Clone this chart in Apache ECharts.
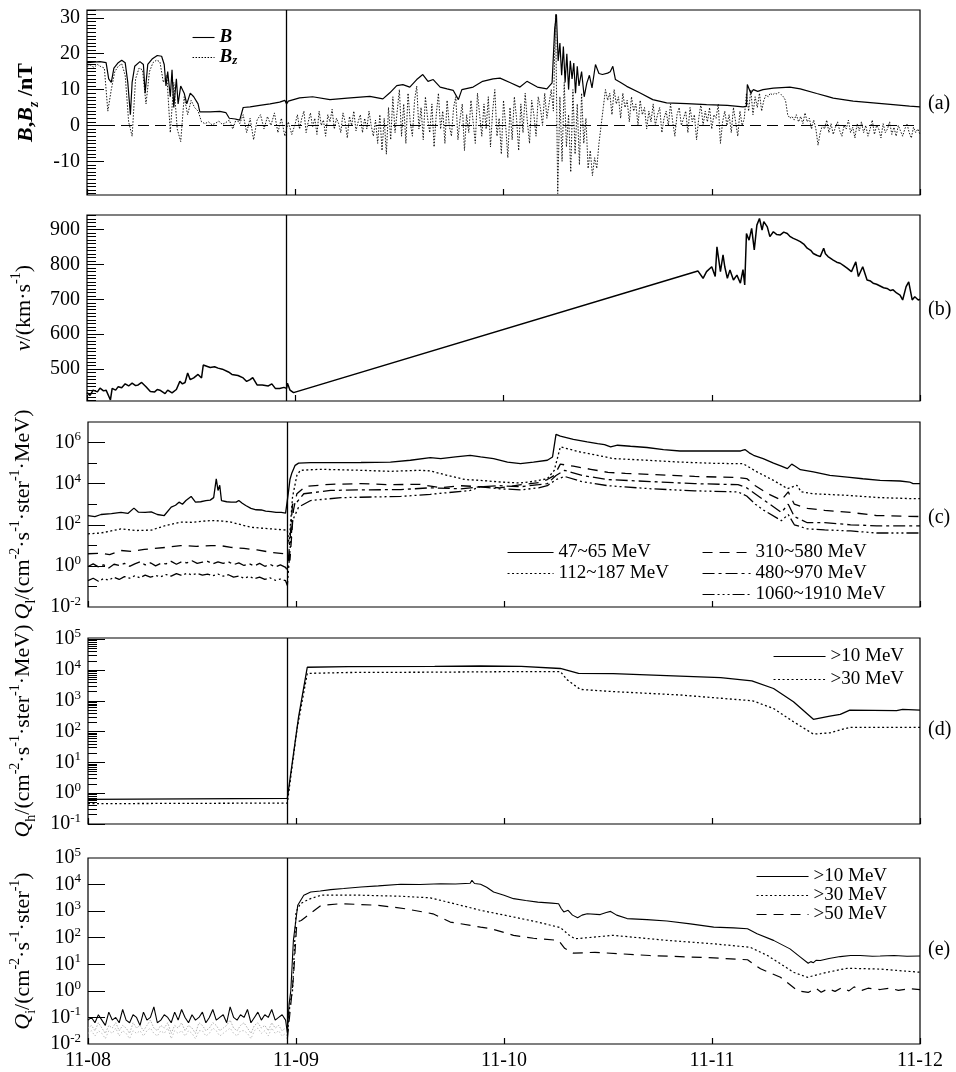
<!DOCTYPE html>
<html>
<head>
<meta charset="utf-8">
<script src="https://cdn.jsdelivr.net/npm/echarts@6/dist/echarts.min.js"></script>
<style>
  html, body { margin: 0; padding: 0; background: #fff; }
  #chart { width: 956px; height: 1072px; }
</style>
</head>
<body>
<div id="chart"></div>
<script>
// Time is counted in hours from 11-08 00:00 UT; the vertical marker is the event onset.
const dayLabels = ['11-08', '11-09', '11-10', '11-11', '11-12'];
const onsetHour = 23;

// (a) interplanetary magnetic field |B| [hour, nT]
const fieldB = [
  [0,17.5],[1.5,17.8],[2.2,17.5],[2.5,13],[2.8,12],[3.1,16],[3.6,17.5],[4.0,18.2],[4.4,17.5],[4.7,12],
  [5.0,3],[5.2,12],[5.5,16.5],[6.1,17.8],[6.5,17],[6.7,9],[7.0,17],[7.5,18.5],[8.1,19.5],[8.6,19.3],
  [8.9,17],[9.1,11],[9.3,15],[9.6,8],[9.8,15.5],[10.0,5],[10.3,13],[10.5,6],[10.8,11],[11.2,9],
  [11.5,6],[11.9,9],[12.3,8],[12.8,6],[13.0,3.8],[14.2,3.8],[15.3,3.9],[16.0,3.6],[16.4,2],[17.1,1.8],
  [17.6,1.5],[18.0,5],[18.8,5.2],[19.9,5.6],[21.1,6],[22.2,6.5],[22.8,7],[23.0,6],[23.2,6.8],[24.5,7.7],
  [26.0,8.0],[28.0,7.2],[30.0,7.6],[32.6,8.1],[34.1,7.4],[34.9,9.1],[35.7,11.1],[36.4,11.4],[37.2,10.7],[38.0,12.8],
  [38.7,14.2],[39.3,12.3],[39.9,12.8],[40.7,10.7],[41.5,10.2],[42.2,9.8],[42.8,7.2],[43.2,10],[44.5,10.7],[45.6,12.3],
  [46.8,13],[47.6,13.2],[48.8,11.9],[49.9,10.7],[50.7,12.3],[51.9,10.7],[53.0,10.2],[53.6,11.9],[53.9,27],[54.1,31],
  [54.3,18],[54.5,23],[54.7,14],[54.9,22],[55.1,12],[55.3,20],[55.5,10],[55.7,18],[55.9,13],[56.1,17.4],
  [56.3,9],[56.5,16.5],[56.7,11],[57.0,15],[57.3,8],[57.6,11.8],[57.9,14],[58.2,10.5],[58.6,17],[59.0,14.5],
  [59.4,14.2],[60.0,14.6],[60.3,15],[60.6,16.5],[60.9,12.8],[61.5,12],[62.2,10.9],[63.7,9.1],[65.2,7.2],[66.8,6.3],
  [69.1,6.1],[71.4,5.8],[73.8,5.6],[75.6,5.2],[76.0,5.3],[76.1,11.4],[76.5,9],[76.8,10],[77.3,9.5],[77.9,10],
  [79.1,10.4],[81.0,10.7],[82.2,10.2],[84.1,8.9],[85.3,8.1],[86.0,7.6],[88.3,6.8],[90.6,6.3],[92.9,5.8],[94.8,5.4],
  [96,5.2]
];

// (a) Bz component [nT]: 0.4 h samples from 00:00 to 23:36, then 0.25 h samples from 24:00
const bzEarlyStep = 0.4;
const fieldBzEarly = [
  16.5,16.8,16.2,17.0,16.4,16.0,4,10,15,16.5,
  17.2,14,1,-3,13,16,15.5,6,15,17.5,
  18.2,17.8,12,14,-2,12,-1,-4.5,8,3,
  7,5,4,1,0.5,1,0.2,0.6,1.2,0.3,
  0.8,1.5,-1,1.8,0.5,3,-2,2,-4,1.5,
  3,-1,2.5,0,3.5,-2,2,-3,1,-2.5
];
const bzLateStart = 24;
const bzLateStep = 0.25;
const fieldBzLate = [
  0.5,3,-1,2,4,-2,1,3.5,-0.5,2,
  -2.5,4,0,1.5,-3,3,1,4.5,-1,2,
  0.5,-2,3.5,1,-3.5,2.5,0,4,-1.5,1,
  3,-2,2,-1,4,0,-3,1.5,-5,3,
  -7,2,-8,5,-4,8,-2,4,10,-3,
  6,-5,9,1,-3,7,11,-1,5,-4,
  8,2,-2,6,-6,3,9,-1,4,-5,
  7,0,-3,5,8,-4,2,6,-7,3,
  -2,7,1,-5,9,3,-3,6,-1,8,
  -6,4,10,-3,2,-8,7,0,-9,5,
  -4,8,2,-7,6,-2,9,1,-5,7,
  3,-3,8,5,0,9,2,6,10,4,
  31,-19,8,-10,12,-6,3,-13,10,-8,
  6,-11,9,-5,2,-12,-7,-14,-9,-12,
  -5,0,5,10,7,9,3,10,6,8,
  2,9,5,7,1,8,4,6,0,7,
  3,5,-1,4,1,6,0,3,5,-2,
  2,4,0,6,1,-3,3,5,0,2,
  4,-2,5,1,3,-4,2,6,0,4,
  1,5,-1,3,2,6,-5,1,4,0,
  3,-2,5,1,-3,4,0,2,9,4,
  10,3,8,5,9,4,7,8.5,8,9,
  8.5,9,8.8,9.2,8.6,8,7,3,2,2.5,
  1.5,3,1,2.5,0.5,3.5,1,2,-1,1.5,
  -1,-5.5,-2,0,-1,1.5,-2,0.5,-2.5,-0.5,
  1,-1.5,-3,0,-1,1.5,-2,-0.5,-3.5,0.5,
  -1.5,1,-2,0,-3,-1,1.5,-2.5,0,-1,
  -3.5,0.5,-2,-1,1,-2.5,-0.5,-3,0,-1.5,
  -3,-1,0.5,-2,-3.5,-0.5,-2,-1,-2.5
];

// (b) solar wind speed [hour, km/s]
const windSpeed = [
  [0,433],[0.35,425],[0.7,440],[1.2,435],[1.5,446],[1.9,438],[2.2,440],[2.7,412],[2.9,445],[3.3,440],
  [3.6,450],[4.0,447],[4.4,458],[4.8,452],[5.2,460],[5.6,453],[5.9,455],[6.3,462],[6.8,450],[7.3,436],
  [7.8,435],[8.1,442],[8.4,440],[9.0,430],[9.3,440],[9.8,432],[10.3,442],[10.7,465],[11.0,458],[11.3,462],
  [11.6,489],[11.9,470],[12.3,475],[12.8,485],[13.2,475],[13.4,512],[14.2,505],[14.7,507],[15.1,503],[15.6,500],
  [16.3,492],[16.7,485],[17.4,482],[18.0,475],[18.4,465],[18.8,470],[19.1,476],[19.6,455],[20.2,455],[20.9,452],
  [21.3,458],[21.7,445],[22.2,445],[22.7,448],[23.0,445],[23.1,460],[23.4,440],[23.8,433],
  [70.4,781],[71.0,760],[71.4,779],[72.0,793],[72.4,765],[72.6,850],[73.0,779],[73.3,827],[73.5,793],[73.8,760],
  [74.1,784],[74.5,755],[74.9,769],[75.3,746],[75.6,785],[75.8,741],[76.0,888],[76.3,869],[76.6,903],[76.9,841],
  [77.2,912],[77.5,931],[77.8,898],[78.0,922],[78.4,907],[78.7,879],[79.1,893],[79.5,885],[79.9,884],[80.3,892],
  [80.7,888],[81.0,880],[81.4,874],[81.8,870],[82.2,865],[82.6,858],[83.0,846],[83.4,840],[83.7,831],[84.1,826],
  [84.5,822],[84.9,846],[85.1,830],[85.4,822],[86.0,812],[86.4,806],[86.8,803],[87.2,796],[87.6,789],[88.1,779],
  [88.6,807],[88.9,765],[89.4,793],[89.9,755],[90.3,752],[90.6,746],[91.0,743],[91.4,738],[91.8,733],[92.2,731],
  [92.6,725],[92.9,727],[93.3,718],[93.7,712],[94.0,698],[94.4,736],[94.7,750],[95.1,698],[95.4,707],[95.8,698],
  [96,700]
];

// (c) differential proton flux, log10 of cm^-2 s^-1 ster^-1 MeV^-1 [hour, log10 flux]
const qlNames = ['47~65 MeV', '112~187 MeV', '310~580 MeV', '480~970 MeV', '1060~1910 MeV'];
const ql47 = [
  [0,2.45],[0.8,2.4],[1.5,2.5],[2.7,2.54],[3.8,2.6],[4.6,2.55],[5.3,2.81],[5.8,2.62],[6.6,2.6],[7.3,2.63],
  [8.0,2.5],[8.8,2.45],[9.6,2.86],[10.1,2.95],[10.5,3.1],[10.9,3.0],[11.3,3.18],[11.9,3.38],[12.4,3.1],[13.0,3.12],
  [13.6,3.18],[14.1,3.2],[14.5,3.32],[14.8,4.24],[15.0,3.67],[15.2,3.92],[15.4,3.18],[16.0,3.12],[16.5,3.1],[17.1,3.1],
  [17.4,3.18],[17.8,3.05],[18.2,2.94],[18.8,2.8],[19.4,2.73],[20.0,2.72],[20.5,2.66],[21.1,2.64],[21.7,2.6],[22.3,2.6],
  [22.8,2.57],[23.0,2.55],[23.1,3.5],[23.3,4.2],[23.5,4.49],[23.9,4.89],[24.3,5.0],[25.7,5.02],[28.0,5.02],[31.5,5.03],
  [34.9,5.05],[37.2,5.14],[39.5,5.27],[40.7,5.22],[42.4,5.3],[44.1,5.38],[45.3,5.3],[46.8,5.22],[48.4,5.05],[49.9,4.97],
  [51.4,5.05],[53.0,5.14],[53.6,5.3],[54.0,6.4],[54.5,6.31],[56.0,6.15],[57.6,6.03],[58.8,5.95],[59.6,5.9],[60.3,5.79],
  [61.1,5.87],[62.6,5.82],[64.5,5.76],[66.4,5.66],[68.3,5.59],[72.2,5.59],[75.3,5.59],[75.8,5.66],[76.3,5.5],[76.8,5.38],
  [77.9,5.22],[79.1,5.0],[80.0,4.85],[80.7,4.73],[81.2,4.95],[81.6,4.85],[82.2,4.68],[83.7,4.57],[85.6,4.4],[87.6,4.32],
  [89.4,4.24],[91.4,4.16],[93.7,4.13],[94.8,4.08],[95.2,4.0],[96,4.0]
];
const ql112 = [
  [0,1.56],[1.5,1.6],[3.8,1.8],[5.5,1.72],[7.3,1.74],[9.0,1.97],[10.7,2.13],[12.0,2.12],[14.2,2.21],[15.5,2.18],
  [16.5,2.13],[18.8,1.88],[21.1,1.8],[23.0,1.74],[23.2,1.07],[23.6,3.35],[24.1,4.4],[24.5,4.65],[26.8,4.7],[31.5,4.65],
  [34.9,4.6],[38.3,4.65],[39.5,4.62],[41.5,4.4],[43.5,4.2],[45.3,4.16],[47.6,4.08],[49.9,4.03],[51.5,4.12],[53.0,4.24],
  [53.8,4.65],[54.5,5.79],[56.8,5.54],[58.8,5.38],[60.6,5.22],[64.5,5.14],[68.3,5.05],[72.2,4.99],[75.6,4.97],[77.2,4.57],
  [79.1,4.16],[80.7,3.76],[81.8,3.92],[82.3,3.6],[83.7,3.51],[87.6,3.43],[91.4,3.32],[95.2,3.27],[96,3.27]
];
const ql310 = [
  [0,0.59],[1.5,0.62],[2.5,0.55],[3.8,0.75],[5.0,0.7],[6.5,0.8],[7.3,0.83],[9.0,0.9],[10.7,0.99],[12.5,0.95],
  [14.2,0.99],[15.5,0.97],[16.5,0.9],[18.0,0.85],[19.5,0.78],[21.1,0.66],[22.7,0.59],[23.0,0.5],[23.3,0.26],[23.7,2.7],
  [24.1,3.51],[25.1,3.87],[28.0,3.97],[31.5,4.0],[35.0,3.95],[38.3,3.97],[40.7,3.8],[43.0,3.9],[45.3,3.85],[47.5,3.8],
  [50.0,3.95],[52.0,4.05],[53.0,4.2],[53.8,4.4],[54.5,4.95],[56.0,4.85],[58.0,4.7],[60.0,4.55],[62.0,4.5],[65.0,4.45],
  [70.0,4.35],[75.0,4.3],[76.0,4.25],[77.0,3.9],[78.5,3.5],[80.0,3.2],[80.8,3.6],[81.5,3.0],[83.0,2.8],[85.0,2.7],
  [88.0,2.6],[91.0,2.45],[96,2.4]
];
const ql480 = [
  [0,-0.03],[0.6,0.1],[1.2,-0.05],[1.8,0.05],[2.4,-0.1],[3.0,0.08],[3.6,0.02],[4.2,0.12],[4.8,-0.02],[5.4,0.1],
  [6.0,0.2],[6.6,0.05],[7.2,0.15],[7.8,0.0],[8.4,0.12],[9.0,0.1],[9.6,0.22],[10.2,0.08],[10.8,0.2],[11.4,0.15],
  [12.0,0.25],[12.6,0.12],[13.2,0.18],[13.8,0.22],[14.4,0.1],[15.0,0.2],[15.6,0.12],[16.2,0.2],[16.8,0.06],[17.4,0.15],
  [18.0,0.02],[18.6,0.1],[19.2,0.0],[19.8,0.12],[20.4,-0.02],[21.0,0.08],[21.6,-0.05],[22.2,0.05],[22.8,-0.07],[23.0,-0.23],
  [23.3,1.2],[23.6,3.0],[24.1,3.1],[24.9,3.51],[28.0,3.67],[31.5,3.7],[36.1,3.71],[39.5,3.8],[43.0,3.75],[45.3,3.85],
  [47.5,3.9],[49.9,3.85],[52.0,3.95],[53.0,4.0],[54.0,4.4],[55.0,4.65],[57.0,4.4],[60.0,4.2],[65.0,4.1],[70.0,4.0],
  [75.0,3.95],[76.0,3.8],[77.0,3.5],[78.0,3.2],[80.0,2.6],[80.8,3.0],[81.5,2.4],[83.0,2.1],[85.0,2.1],[88.0,2.0],
  [91.0,1.95],[96,1.95]
];
const ql1060 = [
  [0,-0.72],[0.6,-0.6],[1.2,-0.75],[1.8,-0.62],[2.4,-0.7],[3.0,-0.55],[3.6,-0.66],[4.2,-0.52],[4.8,-0.6],[5.4,-0.48],
  [6.0,-0.58],[6.6,-0.45],[7.2,-0.55],[7.8,-0.47],[8.4,-0.53],[9.0,-0.42],[9.6,-0.5],[10.2,-0.38],[10.8,-0.46],[11.4,-0.36],
  [12.0,-0.44],[12.6,-0.37],[13.2,-0.45],[13.8,-0.4],[14.4,-0.48],[15.0,-0.4],[15.6,-0.5],[16.2,-0.43],[16.8,-0.55],[17.4,-0.5],
  [18.0,-0.6],[18.6,-0.52],[19.2,-0.62],[19.8,-0.55],[20.4,-0.66],[21.0,-0.58],[21.6,-0.7],[22.2,-0.64],[22.8,-0.72],[23.0,-0.96],
  [23.3,0.75],[23.6,2.2],[24.3,2.86],[25.7,3.18],[29.2,3.32],[36.1,3.38],[39.5,3.48],[44.1,3.67],[45.3,3.85],[47.5,3.75],
  [50.0,3.7],[52.0,3.8],[53.0,3.9],[54.0,4.2],[55.0,4.35],[57.0,4.1],[60.0,3.9],[65.0,3.75],[70.0,3.65],[75.0,3.6],
  [76.0,3.4],[77.0,3.0],[78.0,2.7],[80.0,2.2],[80.8,2.5],[81.5,2.0],[83.0,1.8],[85.0,1.75],[88.0,1.7],[91.0,1.6],
  [96,1.6]
];

// (d) integral flux, log10 [hour, log10 flux]
const qh10 = [
  [0,-0.2],[23.0,-0.17],[23.2,-0.17],[24.3,2.48],[25.3,4.09],[30,4.11],[40,4.12],[45.3,4.13],[50,4.12],[54.5,4.05],
  [56.6,3.89],[60.6,3.88],[68.3,3.8],[73.0,3.75],[76.6,3.65],[79.1,3.4],[81.4,2.97],[83.7,2.4],[85.6,2.5],[86.8,2.56],
  [87.9,2.7],[93.3,2.68],[94.0,2.72],[96,2.7]
];
const qh30 = [
  [0,-0.34],[23.0,-0.32],[23.2,-0.3],[24.1,2.05],[25.3,3.89],[30,3.92],[40,3.93],[50,3.95],[54.5,3.95],[55.3,3.68],
  [56.8,3.37],[60.6,3.3],[68.3,3.19],[76.7,3.0],[79.1,2.75],[81.4,2.32],[83.7,1.92],[85.6,1.96],[87.9,2.14],[96,2.14]
];

// (e) integral flux, log10; quiet-time samples every qiStep hours from 00:00, then [hour, log10 flux]
const qiStep = 0.4;
const qi10Quiet = [
  -1.1,-1.0,-1.2,-0.9,-1.1,-1.3,-0.8,-1.1,-1.0,-1.2,
  -0.7,-1.1,-1.2,-0.9,-1.0,-1.3,-0.8,-1.1,-1.0,-0.6,
  -1.2,-1.1,-0.9,-1.0,-1.2,-0.8,-1.1,-0.7,-1.0,-1.2,
  -0.9,-1.1,-1.0,-0.8,-1.2,-1.0,-0.7,-1.1,-1.0,-0.9,
  -1.2,-0.6,-1.0,-1.1,-0.9,-1.0,-0.7,-1.2,-1.0,-0.8,
  -1.1,-0.9,-1.0,-0.7,-1.1,-1.0,-0.9,-1.1
];
const qi30Quiet = [
  -1.4,-1.3,-1.5,-1.2,-1.4,-1.6,-1.3,-1.4,-1.2,-1.5,
  -1.3,-1.4,-1.6,-1.2,-1.4,-1.3,-1.5,-1.3,-1.1,-1.4,
  -1.5,-1.3,-1.4,-1.2,-1.6,-1.3,-1.4,-1.2,-1.5,-1.3,
  -1.4,-1.6,-1.2,-1.3,-1.5,-1.4,-1.2,-1.3,-1.5,-1.4,
  -1.3,-1.1,-1.4,-1.5,-1.3,-1.2,-1.4,-1.6,-1.3,-1.2,
  -1.4,-1.3,-1.5,-1.2,-1.4,-1.3,-1.5,-1.4
];
const qi50Quiet = [
  -1.6,-1.5,-1.7,-1.5,-1.6,-1.8,-1.5,-1.6,-1.4,-1.7,
  -1.5,-1.6,-1.8,-1.5,-1.6,-1.5,-1.7,-1.5,-1.4,-1.6,
  -1.7,-1.5,-1.6,-1.4,-1.8,-1.5,-1.6,-1.5,-1.7,-1.5,
  -1.6,-1.8,-1.5,-1.5,-1.7,-1.6,-1.4,-1.5,-1.7,-1.6,
  -1.5,-1.4,-1.6,-1.7,-1.5,-1.5,-1.6,-1.8,-1.5,-1.4,
  -1.6,-1.5,-1.7,-1.4,-1.6,-1.5,-1.7,-1.6
];
const qi10Event = [
  [23.0,-1.57],[23.2,-0.5],[23.4,0.0],[23.7,1.9],[24.2,3.22],[24.9,3.6],[25.7,3.72],[26.8,3.76],[28.0,3.81],[29.5,3.85],
  [31.5,3.91],[33.5,3.95],[36.1,4.01],[38.3,4.0],[40.7,4.03],[42.4,4.02],[44.1,4.05],[44.3,4.16],[44.6,4.04],[45.3,4.01],
  [46.0,3.9],[46.8,3.72],[48.0,3.6],[49.1,3.47],[50.5,3.4],[51.9,3.34],[53.5,3.3],[54.3,3.28],[54.6,3.1],[54.9,2.97],
  [55.4,3.03],[55.9,2.85],[56.5,2.75],[57.0,2.85],[57.6,2.9],[59.1,2.87],[59.8,2.95],[60.3,2.99],[61.0,2.85],[62.2,2.72],
  [64.5,2.68],[66.8,2.63],[69.5,2.52],[72.2,2.4],[74.5,2.37],[76.1,2.34],[77.2,2.15],[79.1,1.9],[81.0,1.58],[82.2,1.27],
  [83.1,1.04],[83.4,1.1],[83.7,1.06],[84.0,1.15],[84.5,1.14],[85.5,1.22],[86.8,1.29],[88.0,1.33],[89.1,1.33],[90.5,1.3],
  [91.4,1.31],[93.0,1.33],[94.5,1.3],[96,1.31]
];
const qi30Event = [
  [23.0,-1.7],[23.3,-0.5],[23.6,0.0],[24.0,2.97],[24.5,3.28],[25.5,3.45],[26.9,3.6],[31.5,3.6],[36.1,3.56],[39.5,3.5],
  [43.0,3.22],[45.3,3.03],[49.1,2.78],[51.9,2.59],[54.5,2.38],[55.5,2.1],[56.2,1.96],[57.6,2.0],[60.6,2.09],[66.8,1.9],
  [72.2,1.77],[76.4,1.64],[78.4,1.33],[79.9,1.02],[81.4,0.7],[83.0,0.51],[85.3,0.7],[87.6,0.85],[91.4,0.82],[96,0.7]
];
const qi50Event = [
  [23.0,-1.8],[23.4,-0.5],[23.7,0.5],[24.1,2.59],[24.6,2.65],[26.9,3.22],[29.2,3.28],[33.5,3.22],[36.6,3.09],[39.8,2.9],
  [41.8,2.59],[45.3,2.4],[46.5,2.34],[49.1,2.09],[51.4,1.98],[54.3,1.9],[55.0,1.6],[56.0,1.42],[58.5,1.45],[64.8,1.33],
  [72.2,1.24],[76.1,1.17],[77.6,0.83],[79.9,0.51],[81.9,0.0],[83.1,-0.06],[84.0,0.1],[84.6,-0.05],[85.4,0.08],[86.2,-0.02],
  [87.0,0.12],[87.8,0.0],[88.4,0.15],[89.3,0.02],[90.0,0.1],[91.4,0.05],[92.5,0.1],[93.5,0.02],[94.7,0.08],[96,0.05]
];

// ---------------------------------------------------------------------------
const FONT = '"Liberation Serif", "Times New Roman", serif';
const BLACK = '#000';

function sampled(values, step, start) { return values.map((v, i) => [(start || 0) + i * step, v]); }

const grids = [
  { left: 87, top: 10,  width: 833, height: 185 },
  { left: 87, top: 215, width: 833, height: 186 },
  { left: 87, top: 422, width: 833, height: 185 },
  { left: 87, top: 638, width: 833, height: 186 },
  { left: 87, top: 858, width: 833, height: 186 }
].map(g => Object.assign(g, { show: true, borderColor: BLACK, borderWidth: 1.2, backgroundColor: 'transparent' }));

const xAxes = grids.map((g, i) => ({
  type: 'value', gridIndex: i, min: 0, max: 96, interval: 24,
  axisLine: { show: false, onZero: false },
  axisTick: { show: true, inside: true, length: 6, lineStyle: { color: BLACK, width: 1.2 } },
  splitLine: { show: false },
  axisLabel: {
    show: i === grids.length - 1, margin: 7, color: BLACK, fontFamily: FONT, fontSize: 20,
    formatter: v => dayLabels[Math.round(v / 24)]
  }
}));

const nameRich = {
  t:   { fontFamily: FONT, fontSize: 22, color: BLACK, lineHeight: 30 },
  tb:  { fontFamily: FONT, fontSize: 22, color: BLACK, lineHeight: 30, fontWeight: 'bold' },
  i:   { fontFamily: FONT, fontSize: 22, color: BLACK, lineHeight: 30, fontStyle: 'italic' },
  bi:  { fontFamily: FONT, fontSize: 22, color: BLACK, lineHeight: 30, fontStyle: 'italic', fontWeight: 'bold' },
  sub: { fontFamily: FONT, fontSize: 14, color: BLACK, verticalAlign: 'bottom', lineHeight: 18 },
  bsub:{ fontFamily: FONT, fontSize: 14, color: BLACK, verticalAlign: 'bottom', lineHeight: 18, fontStyle: 'italic', fontWeight: 'bold' },
  sup: { fontFamily: FONT, fontSize: 14, color: BLACK, verticalAlign: 'top', lineHeight: 16 }
};

const labelRich = {
  b: { fontFamily: FONT, fontSize: 20, color: BLACK, lineHeight: 24 },
  s: { fontFamily: FONT, fontSize: 13, color: BLACK, verticalAlign: 'top', lineHeight: 13 }
};
const powLabel = v => '{b|10}{s|' + Math.round(v) + '}';
const plainLabel = v => '{b|' + v + '}';

function range(a, b, step) { const out = []; for (let v = a; v <= b + 1e-9; v += step) out.push(+v.toFixed(6)); return out; }
function logMinor(lo, hi) {
  const out = [];
  for (let n = lo; n < hi; n++) for (let k = 2; k <= 9; k++) out.push(n + Math.log10(k));
  return out;
}

// one labelled axis plus one tick-only axis per panel
function yPair(gi, min, max, labels, majorTicks, minorTicks, minorLen, fmt, name, nameGap) {
  const main = {
    type: 'value', gridIndex: gi, min, max, position: 'left',
    name, nameLocation: 'middle', nameRotate: 90, nameGap,
    nameTextStyle: { rich: nameRich },
    axisLine: { show: false, onZero: false }, splitLine: { show: false },
    axisTick: { show: true, inside: true, length: 17, customValues: majorTicks, lineStyle: { color: BLACK, width: 1 } },
    axisLabel: { show: true, margin: 7, customValues: labels, formatter: fmt, rich: labelRich, color: BLACK }
  };
  const minor = {
    type: 'value', gridIndex: gi, min, max, position: 'left',
    axisLine: { show: false, onZero: false }, splitLine: { show: false }, axisLabel: { show: false },
    axisTick: { show: minorTicks.length > 0, inside: true, length: minorLen, customValues: minorTicks, lineStyle: { color: BLACK, width: 1 } }
  };
  return [main, minor];
}

const yAxes = [].concat(
  yPair(0, -19.4, 32.2, [-10, 0, 10, 20, 30], [-10, 0, 10, 20, 30], range(-19, 32, 1), 9, plainLabel,
        '{bi|B}{tb|,}{bi|B}{bsub|z}{tb| /nT}', 46),
  yPair(1, 409, 941, [500, 600, 700, 800, 900], [500, 600, 700, 800, 900], range(410, 940, 10), 9, plainLabel,
        '{i|v}{t|/(km·s}{sup|-1}{t|)}', 48),
  yPair(2, -2, 7, [-2, 0, 2, 4, 6], [0, 2, 4, 6], [-1, 1, 3, 5], 9, powLabel,
        '{i|Q}{sub|l}{t|/(cm}{sup|-2}{t|·s}{sup|-1}{t|·ster}{sup|-1}{t|·MeV)}', 50),
  yPair(3, -1, 5.04, range(-1, 5, 1), range(-1, 5, 1), logMinor(-1, 5), 9, powLabel,
        '{i|Q}{sub|h}{t|/(cm}{sup|-2}{t|·s}{sup|-1}{t|·ster}{sup|-1}{t|·MeV)}', 50),
  yPair(4, -2, 5, range(-2, 5, 1), range(-1, 4, 1), [], 9, powLabel,
        '{i|Q}{sub|i}{t|/(cm}{sup|-2}{t|·s}{sup|-1}{t|·ster}{sup|-1}{t|)}', 50)
);

const DOT = [2, 2.5];
const DASH = [10, 7];
const DASHDOT = [12, 4, 3, 4];
const DASH3DOT = [12, 3, 2, 3, 2, 3, 2, 3];

function onsetLine(extra) {
  return {
    silent: true, symbol: ['none', 'none'], animation: false, label: { show: false },
    emphasis: { disabled: true },
    data: [{ xAxis: onsetHour, lineStyle: { color: BLACK, width: 1.3, type: 'solid' } }].concat(extra || [])
  };
}

function line(name, gi, data, width, dash, markLine, color) {
  const s = {
    type: 'line', name, xAxisIndex: gi, yAxisIndex: gi * 2, data,
    symbol: 'none', showSymbol: false, silent: true, animation: false, clip: true,
    itemStyle: { color: color || BLACK },
    lineStyle: { color: color || BLACK, width, type: dash || 'solid' },
    emphasis: { disabled: true }
  };
  if (markLine) s.markLine = markLine;
  return s;
}

const bzData = sampled(fieldBzEarly, bzEarlyStep).concat(sampled(fieldBzLate, bzLateStep, bzLateStart));

const series = [
  line('Bz', 0, bzData, 0.9, [1.5, 1.5]),
  line('B', 0, fieldB, 1.2, 'solid', onsetLine([{ yAxis: 0, lineStyle: { color: BLACK, width: 1.2, type: [11, 6] } }])),
  line('v', 1, windSpeed, 1.5, 'solid', onsetLine()),
  line(qlNames[0], 2, ql47, 1.3, 'solid', onsetLine()),
  line(qlNames[1], 2, ql112, 1.3, DOT),
  line(qlNames[2], 2, ql310, 1.3, DASH),
  line(qlNames[3], 2, ql480, 1.3, DASHDOT),
  line(qlNames[4], 2, ql1060, 1.3, DASH3DOT),
  line('>10 MeV', 3, qh10, 1.3, 'solid', onsetLine()),
  line('>30 MeV', 3, qh30, 1.3, DOT),
  line('>10 MeV', 4, sampled(qi10Quiet, qiStep).concat(qi10Event), 1.1, 'solid', onsetLine()),
  line('>30 MeV', 4, qi30Event, 1.2, DOT),
  line('>50 MeV', 4, qi50Event, 1.2, DASH),
  // quiet-time background of the two higher channels, near the noise floor
  line('>30 MeV quiet', 4, sampled(qi30Quiet, qiStep), 0.8, [1.5, 1.5], null, '#9a9a9a'),
  line('>50 MeV quiet', 4, sampled(qi50Quiet, qiStep), 0.8, [1.5, 2], null, '#b0b0b0')
];

const legendText = { fontFamily: FONT, fontSize: 19, color: BLACK };
function legend(names, left, top, itemWidth, itemGap, extra) {
  return Object.assign({
    data: names, left, top, orient: 'vertical', itemWidth, itemHeight: 14, itemGap,
    selectedMode: false, padding: 0, textStyle: legendText,
    itemStyle: { opacity: 0 },
    lineStyle: { width: 1.1 }
  }, extra || {});
}

const legends = [
  legend(['B', 'Bz'], 192, 28, 22, 1, {
    formatter: n => n === 'B' ? '{bi|B}' : '{bi|B}{sub|z}',
    textStyle: {
      rich: {
        bi: { fontFamily: FONT, fontSize: 19, color: BLACK, fontStyle: 'italic', fontWeight: 'bold', lineHeight: 19 },
        sub: { fontFamily: FONT, fontSize: 13, color: BLACK, fontStyle: 'italic', fontWeight: 'bold', verticalAlign: 'bottom', lineHeight: 13 }
      }
    }
  }),
  legend([qlNames[0], qlNames[1]], 507, 543, 46, 2),
  legend([qlNames[2], qlNames[3], qlNames[4]], 702, 543, 48, 2),
  legend(['>10 MeV', '>30 MeV'], 773, 647, 52, 4),
  legend(['>10 MeV', '>30 MeV', '>50 MeV'], 756, 867, 52, 0)
];

const panelTags = [['(a)', 94], ['(b)', 300], ['(c)', 508], ['(d)', 720], ['(e)', 940]];
const graphic = panelTags.map(([t, y]) => ({
  type: 'text', left: 928, top: y, silent: true,
  style: { text: t, font: '20px ' + FONT, fill: BLACK }
}));

const chart = echarts.init(document.getElementById('chart'), null, { renderer: 'canvas' });
chart.setOption({
  animation: false,
  backgroundColor: '#fff',
  textStyle: { fontFamily: FONT, color: BLACK },
  grid: grids,
  xAxis: xAxes,
  yAxis: yAxes,
  legend: legends,
  series,
  graphic
});
</script>
</body>
</html>
